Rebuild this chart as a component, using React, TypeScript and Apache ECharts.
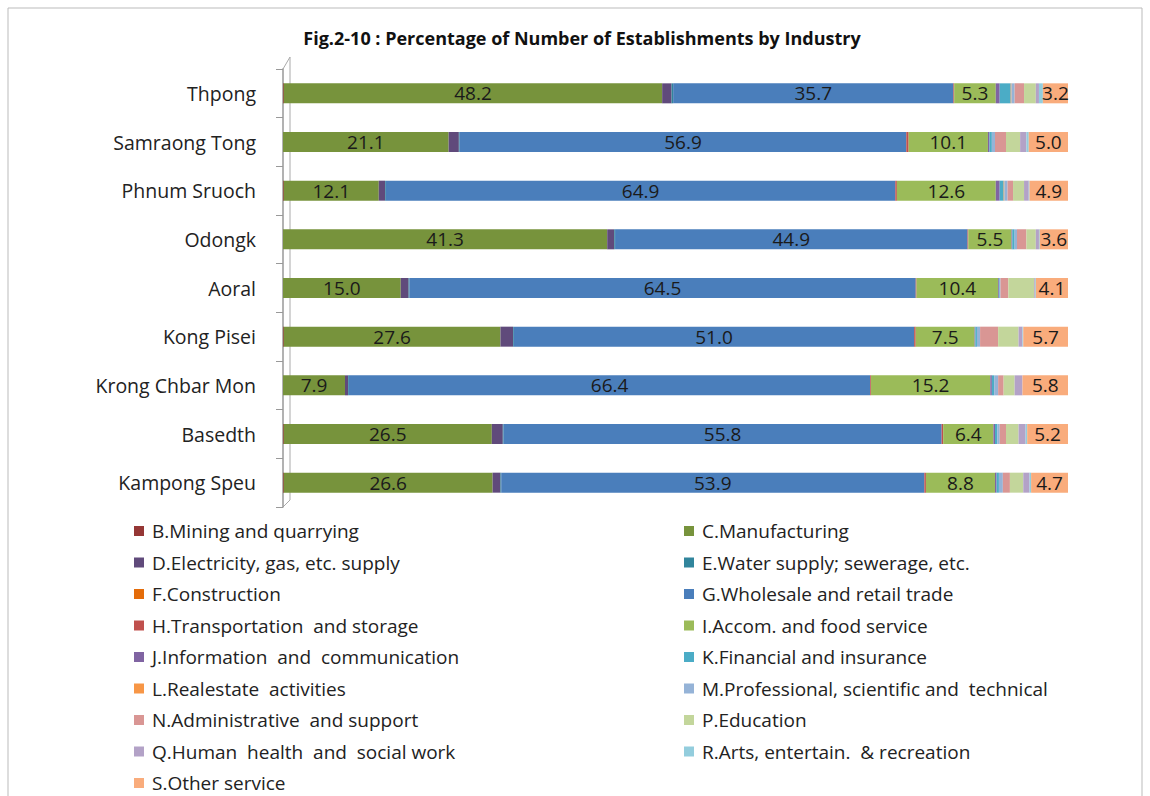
import React, { useEffect, useRef } from "react";
import * as echarts from "echarts";

const categories = [
  "Thpong",
  "Samraong Tong",
  "Phnum Sruoch",
  "Odongk",
  "Aoral",
  "Kong Pisei",
  "Krong Chbar Mon",
  "Basedth",
  "Kampong Speu",
];

const industries = [
  "B.Mining and quarrying",
  "C.Manufacturing",
  "D.Electricity, gas, etc. supply",
  "E.Water supply; sewerage, etc.",
  "F.Construction",
  "G.Wholesale and retail trade",
  "H.Transportation  and storage",
  "I.Accom. and food service",
  "J.Information  and  communication",
  "K.Financial and insurance",
  "L.Realestate  activities",
  "M.Professional, scientific and  technical",
  "N.Administrative  and support",
  "P.Education",
  "Q.Human  health  and  social work",
  "R.Arts, entertain.  & recreation",
  "S.Other service",
];

const colors = [
  "#953735", "#77933C", "#604A7B", "#31859C", "#E46C0A", "#4A7EBB",
  "#C0504D", "#9BBB59", "#8064A2", "#4BACC6", "#F79646", "#95B3D7",
  "#D99694", "#C3D69B", "#B3A2C7", "#93CDDD", "#F9AC7C",
];

// values per industry, in category order (Thpong ... Kampong Speu)
const B = [0.1, 0.0, 0.1, 0.0, 0.0, 0.1, 0.0, 0.1, 0.1];
const C = [48.2, 21.1, 12.1, 41.3, 15.0, 27.6, 7.9, 26.5, 26.6];
const D = [1.2, 1.3, 0.8, 0.9, 1.0, 1.6, 0.4, 1.4, 1.0];
const E = [0.2, 0.1, 0.1, 0.1, 0.1, 0.1, 0.1, 0.1, 0.1];
const F = [0.0, 0.0, 0.0, 0.0, 0.0, 0.0, 0.0, 0.0, 0.0];
const G = [35.7, 56.9, 64.9, 44.9, 64.5, 51.0, 66.4, 55.8, 53.9];
const H = [0.1, 0.3, 0.2, 0.1, 0.1, 0.2, 0.1, 0.2, 0.2];
const I = [5.3, 10.1, 12.6, 5.5, 10.4, 7.5, 15.2, 6.4, 8.8];
const J = [0.5, 0.2, 0.5, 0.1, 0.1, 0.1, 0.2, 0.2, 0.2];
const K = [1.4, 0.3, 0.5, 0.3, 0.1, 0.2, 0.3, 0.3, 0.3];
const L = [0.1, 0.0, 0.1, 0.0, 0.0, 0.0, 0.0, 0.0, 0.0];
const M = [0.4, 0.4, 0.4, 0.3, 0.1, 0.4, 0.5, 0.3, 0.5];
const N = [1.2, 1.4, 0.7, 1.2, 1.0, 2.3, 0.7, 0.8, 0.9];
const P = [1.5, 1.8, 1.4, 1.2, 3.3, 2.6, 1.4, 1.6, 1.7];
const Q = [0.4, 0.8, 0.6, 0.4, 0.1, 0.5, 1.0, 0.9, 0.8];
const R = [0.5, 0.3, 0.1, 0.1, 0.1, 0.1, 0.0, 0.2, 0.2];
const S = [3.2, 5.0, 4.9, 3.6, 4.1, 5.7, 5.8, 5.2, 4.7];

const values = [B, C, D, E, F, G, H, I, J, K, L, M, N, P, Q, R, S];
const labelled = [1, 5, 7, 16];

const leftLegend = industries.filter((_, i) => i % 2 === 0);
const rightLegend = industries.filter((_, i) => i % 2 === 1);

export default function App() {
  const ref = useRef<HTMLDivElement>(null);

  useEffect(() => {
    document.body.style.margin = "0";
    const chart = echarts.init(ref.current!, null, { renderer: "svg" });
    const font = "'Open Sans', 'Noto Sans', sans-serif";
    const legendCommon = {
      orient: "vertical" as const,
      top: 521,
      height: 275,
      padding: 0,
      itemWidth: 10,
      itemHeight: 10,
      itemGap: 11.5,
      icon: "rect",
      selectedMode: false,
      textStyle: { fontSize: 19, color: "#222", fontFamily: font, lineHeight: 20, padding: [0, 0, 0, 3] },
    };
    chart.setOption({
      animation: false,
      color: colors,
      backgroundColor: "#fff",
      title: {
        text: "Fig.2-10 : Percentage of Number of Establishments by Industry",
        left: 582,
        textAlign: "center",
        top: 29,
        padding: 0,
        textStyle: { fontSize: 18, fontWeight: "bold", color: "#111", fontFamily: font },
      },
      grid: { left: 283, top: 69, width: 785, height: 438, containLabel: false },
      xAxis: { type: "value", min: 0, max: 100, show: false },
      yAxis: {
        type: "category",
        data: categories,
        inverse: true,
        axisLine: { show: true, lineStyle: { color: "#999", width: 1.5 } },
        axisTick: { show: true, length: 7, lineStyle: { color: "#999" } },
        axisLabel: { fontSize: 19.5, color: "#222", margin: 27, fontFamily: font },
      },
      legend: [
        { ...legendCommon, left: 134, data: leftLegend },
        { ...legendCommon, left: 684, data: rightLegend },
      ],
      graphic: [
        { type: "rect", shape: { x: 8, y: 8, width: 1134, height: 800 }, style: { fill: "none", stroke: "#bbb", lineWidth: 1 } },
        { type: "polyline", shape: { points: [[283, 69], [290, 57], [290, 500], [283, 507]] }, style: { fill: "none", stroke: "#aaa", lineWidth: 1 } },
      ],
      series: industries.map((name, i) => ({
        name,
        type: "bar",
        stack: "total",
        barWidth: 20,
        data: values[i],
        itemStyle: { color: colors[i] },
        label: {
          show: labelled.includes(i),
          position: "inside",
          fontSize: 19,
          color: "#1a1a1a",
          fontFamily: font,
          formatter: (p: any) => Number(p.value).toFixed(1),
        },
      })),
    });
    return () => chart.dispose();
  }, []);

  return <div ref={ref} style={{ width: 1150, height: 796 }} />;
}
